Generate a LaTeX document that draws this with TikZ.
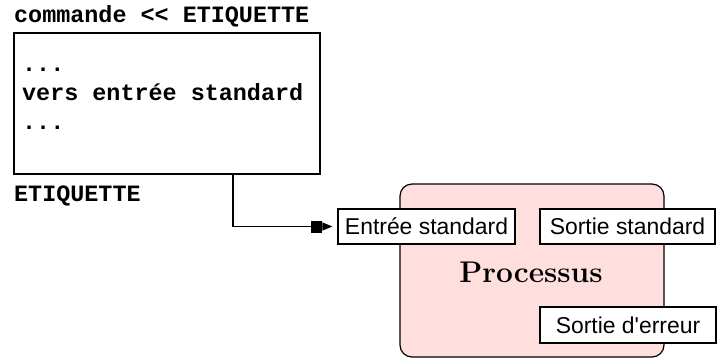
\documentclass[tikz,border=0pt]{standalone}
\usepackage{fontspec}
\setmonofont{Liberation Mono}
\newfontfamily\helv{Liberation Sans}
\usetikzlibrary{arrows.meta}
\definecolor{procpink}{RGB}{255,222,222}

\tikzset{
  code/.style={font=\fontsize{23.5}{29}\selectfont\ttfamily\bfseries, inner sep=0pt},
  port/.style={draw, fill=white, line width=1.2bp, inner sep=0pt, minimum height=35bp,
    font=\fontsize{23}{27}\selectfont\helv},
}

\begin{document}
\begin{tikzpicture}[x=1bp, y=-1bp]
    \useasboundingbox (0,0) rectangle (724,362);
    % document en ligne
    \node[code, anchor=base west] (cmd) at (14,22) {commande << ETIQUETTE};
    \draw[line width=1.2bp] (14,33) rectangle (320,174);
    \node[code, anchor=base west] (dots1) at (22,71) {...};
    \node[code, anchor=base west] (body) at (22,100) {vers entrée standard};
    \node[code, anchor=base west] (dots2) at (22,129) {...};
    \node[code, anchor=base west] (tag) at (14,201) {ETIQUETTE};
    \coordinate (tap) at (233,174);
    % processus
    \node[draw, fill=procpink, line width=1.2bp, rounded corners=12bp,
      minimum width=264bp, minimum height=173bp] (proc) at (532,270.5) {};
    \node[font=\fontsize{30}{33}\selectfont\bfseries, anchor=base] (name) at (531,282) {Processus};
    \node[port, minimum width=177bp] (stdin) at (426.5,226.5) {Entrée standard};
    \node[port, minimum width=175bp] (stdout) at (627.5,226.5) {Sortie standard};
    \node[port, minimum width=176bp, minimum height=36bp] (stderr) at (628,325) {Sortie d'erreur};
    % redirection
    \draw[line width=1.2bp, shorten >=5bp,
      -{Square[length=11bp,width=12bp,sep=0pt]Triangle[length=10bp,width=8bp]}]
      (tap) |- (stdin.west);
\end{tikzpicture}
\end{document}
